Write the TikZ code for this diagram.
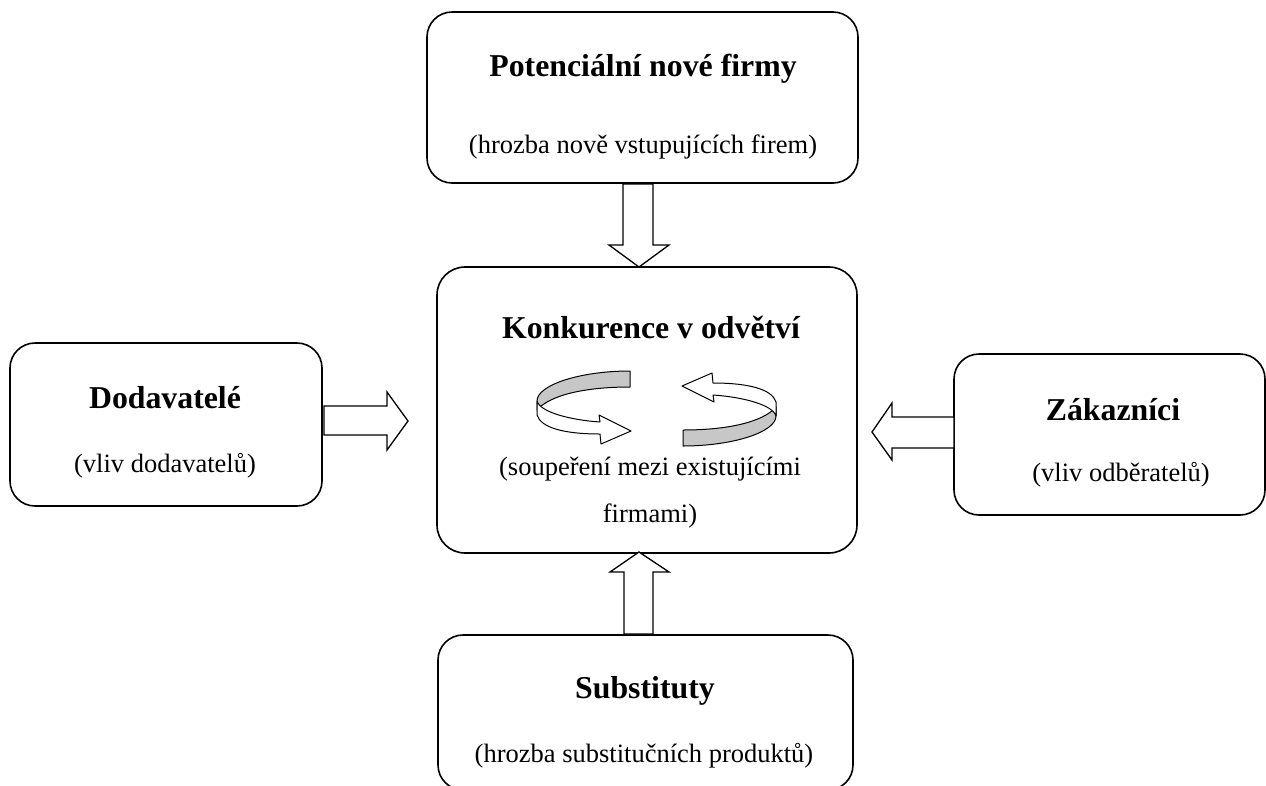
\documentclass[tikz,border=0pt]{standalone}
\usepackage{fontspec}
\setmainfont{Liberation Serif}
\begin{document}
\begin{tikzpicture}[x=1pt,y=-1pt,
  box/.style={draw, line width=1.6pt, rounded corners=25pt, inner sep=0pt, rectangle},
  blockarrow/.style={draw, line width=1.3pt, line join=miter, fill=white},
  ttl/.style={font=\fontsize{31.8}{38}\selectfont\bfseries, anchor=base, inner sep=0pt},
  sub/.style={font=\fontsize{26.5}{32}\selectfont, anchor=base, inner sep=0pt},
  ribbon/.style={draw, line width=1pt, line join=round},
  ribbonpic/.pic={
    \path[ribbon, fill=black!22] (-26.5,-37.5) .. controls (-76.5,-37.5) and (-119.5,-23.5) .. (-119.5,-7.5)
      -- (-119.5,1.5) .. controls (-106.5,-13.5) and (-71.5,-21.5) .. (-26.5,-21.5) -- cycle;
    \path[ribbon, fill=white] (-119.5,-7.5) .. controls (-116.5,3.5) and (-86.5,11.5) .. (-56.5,13.5)
      -- (-57.5,6.5) -- (-25.5,22.5) -- (-55.5,35.5) -- (-56.5,25.5)
      .. controls (-91.5,25.5) and (-115.5,19.5) .. (-119.5,6.5) -- cycle;
  }]
\useasboundingbox (0,0) rectangle (1266,785);
\clip (0,0) rectangle (1266,785);

% boxes
\node[box, minimum width=431pt, minimum height=171pt] (top) at (642.5,97.5) {};
\node[box, minimum width=312pt, minimum height=163pt] (left) at (166,424.5) {};
\node[box, minimum width=311pt, minimum height=161pt] (right) at (1109.5,434.5) {};
\node[box, rounded corners=28pt, minimum width=420pt, minimum height=286pt] (mid) at (647,410) {};
\node[box, minimum width=415pt, minimum height=155pt] (bot) at (645.5,712.5) {};

% texts
\node[ttl] (topT) at (643,76) {Potenciální nové firmy};
\node[sub] (topS) at (643,153) {(hrozba nově vstupujících firem)};
\node[ttl] (leftT) at (165,408) {Dodavatelé};
\node[sub] (leftS) at (165,472) {(vliv dodavatelů)};
\node[ttl] (rightT) at (1113,420) {Zákazníci};
\node[sub] (rightS) at (1121,481) {(vliv odběratelů)};
\node[ttl] (midT) at (651,338) {Konkurence v odvětví};
\node[sub] (midS1) at (650,475) {(soupeření mezi existujícími};
\node[sub] (midS2) at (650,522) {firmami)};
\node[ttl] (botT) at (645,698) {Substituty};
\node[sub] (botS) at (644,762) {(hrozba substitučních produktů)};

% block arrows
\path[blockarrow] (623,184) -- (653,184) -- (653,245) -- (669,245) -- (639,267) -- (609,245) -- (623,245) -- cycle;
\path[blockarrow] (324,406) -- (387,406) -- (387,392) -- (408,421) -- (387,450) -- (387,435) -- (324,435) -- cycle;
\path[blockarrow] (954,417) -- (892,417) -- (892,403) -- (872,432) -- (892,460) -- (892,448) -- (954,448) -- cycle;
\path[blockarrow] (624,634) -- (624,572) -- (610,572) -- (639,552) -- (669,572) -- (653,572) -- (653,634) -- cycle;

% circular arrows
\pic at (656.5,408.5) {ribbonpic};
\pic[rotate=180] at (656.5,408.5) {ribbonpic};
\end{tikzpicture}
\end{document}
